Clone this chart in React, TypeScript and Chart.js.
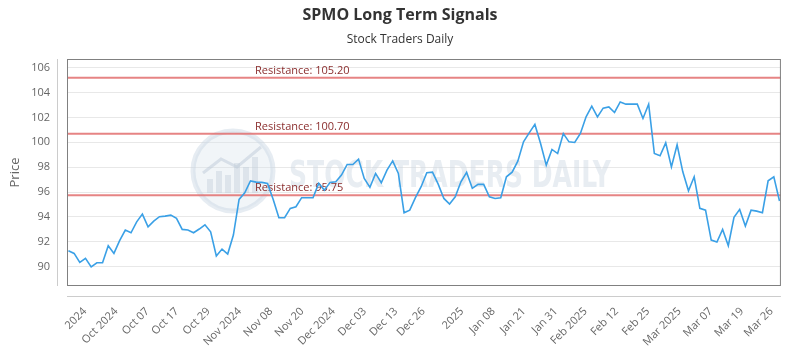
import React, { useEffect, useRef } from 'react';
import { Chart, registerables } from 'chart.js';

Chart.register(...registerables);

const titleText = 'SPMO Long Term Signals';
const subtitleText = 'Stock Traders Daily';
const yAxisTitle = 'Price';
const watermarkText = 'STOCK TRADERS DAILY';

const prices: number[] = [
  91.29, 91.07, 90.35, 90.67, 89.98, 90.32, 90.32, 91.69, 91.07, 92.09,
  92.95, 92.73, 93.61, 94.23, 93.21, 93.67, 94.02, 94.07, 94.15, 93.89,
  93.0, 92.95, 92.73, 93.03, 93.37, 92.81, 90.86, 91.42, 91.02, 92.55,
  95.41, 95.94, 96.9, 96.8, 96.78, 96.7, 95.4, 93.94, 93.94,
  94.69, 94.82, 95.55, 95.54, 95.54, 96.7, 96.16, 96.78, 96.83, 97.37,
  98.22, 98.22, 98.65, 97.1, 96.38, 97.5, 96.75, 97.77, 98.51, 97.5,
  94.34, 94.55, 95.55, 96.43, 97.55, 97.6, 96.64, 95.49, 95.04,
  95.62, 96.83, 97.58, 96.3, 96.62, 96.62, 95.62, 95.49, 95.54, 97.23,
  97.6, 98.49, 100.04, 100.76, 101.44, 99.91, 98.17, 99.43, 99.1, 100.71,
  100.04, 99.99, 100.71, 102.05, 102.91, 102.05, 102.75, 102.85, 102.4, 103.25,
  103.07, 103.07, 103.07, 101.92, 103.07, 99.1, 98.92, 99.96, 98.03, 99.8,
  97.63, 96.1, 97.23, 94.69, 94.55, 92.14, 91.98, 93.0, 91.69, 93.97,
  94.61, 93.27, 94.55, 94.47, 94.34, 96.91, 97.23, 95.28,
];

const resistanceLevels: number[] = [105.2, 100.7, 95.75];

const tickPositions: number[] = [
  2.9, 8.4, 13.9, 19.1, 24.6, 30.1, 35.6, 41.1, 46.6, 52.1, 57.6, 62.4,
  69.2, 74.7, 80.1, 85.7, 90.9, 96.4, 101.9, 107.4, 112.9, 118.4, 123.6,
];
const tickLabels: string[] = [
  '2024', 'Oct 2024', 'Oct 07', 'Oct 17', 'Oct 29', 'Nov 2024', 'Nov 08', 'Nov 20',
  'Dec 2024', 'Dec 03', 'Dec 13', 'Dec 26', '2025', 'Jan 08', 'Jan 21', 'Jan 31',
  'Feb 2025', 'Feb 12', 'Feb 25', 'Mar 2025', 'Mar 07', 'Mar 19', 'Mar 26',
];
const yTicks: number[] = [90, 92, 94, 96, 98, 100, 102, 104, 106];

const FONT = "'Open Sans', 'Noto Sans', sans-serif";

const decorPlugin = {
  id: 'decor',
  beforeDatasetsDraw(chart: any) {
    const { ctx, chartArea, scales } = chart;
    const { left, right, top, bottom } = chartArea;
    ctx.save();
    // watermark logo
    const cx = left + 166;
    const cy = top + 112;
    ctx.beginPath();
    ctx.arc(cx, cy, 40, 0, Math.PI * 2);
    ctx.fillStyle = 'rgba(215,225,236,0.35)';
    ctx.fill();
    ctx.lineWidth = 5;
    ctx.strokeStyle = 'rgba(200,212,226,0.45)';
    ctx.stroke();
    ctx.fillStyle = 'rgba(190,202,216,0.4)';
    const bars = [14, 22, 18, 30, 26, 36];
    bars.forEach((h, i) => {
      ctx.fillRect(cx - 26 + i * 9, cy + 22 - h, 6, h);
    });
    ctx.beginPath();
    ctx.moveTo(cx - 30, cy + 2);
    ctx.lineTo(cx - 12, cy - 12);
    ctx.lineTo(cx + 4, cy - 4);
    ctx.lineTo(cx + 28, cy - 24);
    ctx.lineWidth = 3;
    ctx.strokeStyle = 'rgba(190,202,216,0.5)';
    ctx.stroke();
    // watermark text
    ctx.font = `bold 38px 'DejaVu Sans Condensed', 'Liberation Sans Narrow', sans-serif`;
    const w = ctx.measureText(watermarkText).width;
    const targetW = 322;
    ctx.translate(left + 222, top + 118);
    ctx.scale(targetW / w, 1);
    ctx.textAlign = 'left';
    ctx.textBaseline = 'middle';
    ctx.fillStyle = 'rgba(205,214,226,0.45)';
    ctx.fillText(watermarkText, 0, 0);
    ctx.restore();

    // resistance lines
    ctx.save();
    const ys = scales.y;
    resistanceLevels.forEach((lvl) => {
      const py = ys.getPixelForValue(lvl);
      ctx.beginPath();
      ctx.moveTo(left, py);
      ctx.lineTo(right, py);
      ctx.lineWidth = 2;
      ctx.strokeStyle = 'rgba(226,110,110,0.85)';
      ctx.stroke();
      ctx.font = `11px ${FONT}`;
      ctx.fillStyle = '#8b2e2e';
      ctx.textAlign = 'left';
      ctx.textBaseline = 'alphabetic';
      ctx.fillText('Resistance: ' + lvl.toFixed(2), left + 188, py - 4);
    });
    ctx.restore();
  },
  afterDatasetsDraw(chart: any) {
    const { ctx, chartArea } = chart;
    const { left, right, top, bottom } = chartArea;
    ctx.save();
    ctx.lineWidth = 1;
    ctx.strokeStyle = '#808080';
    ctx.strokeRect(left + 0.5, top + 0.5, right - left - 1, bottom - top - 1);
    ctx.strokeStyle = '#cccccc';
    ctx.beginPath();
    ctx.moveTo(left - 9.5, top);
    ctx.lineTo(left - 9.5, bottom);
    ctx.moveTo(left, bottom + 10.5);
    ctx.lineTo(right, bottom + 10.5);
    ctx.stroke();
    ctx.restore();
  },
  afterDraw(chart: any) {
    const { ctx, chartArea } = chart;
    ctx.save();
    ctx.textAlign = 'center';
    ctx.textBaseline = 'middle';
    ctx.fillStyle = '#333333';
    ctx.font = `bold 16px ${FONT}`;
    ctx.fillText(titleText, 400, 15);
    ctx.font = `12px ${FONT}`;
    ctx.fillText(subtitleText, 400, 40);
    ctx.translate(15, (chartArea.top + chartArea.bottom) / 2);
    ctx.rotate(-Math.PI / 2);
    ctx.fillStyle = '#666666';
    ctx.font = `13px ${FONT}`;
    ctx.fillText(yAxisTitle, 0, 0);
    ctx.restore();
  },
};

export default function App() {
  const ref = useRef<HTMLCanvasElement | null>(null);
  useEffect(() => {
    document.body.style.margin = '0';
    const canvas = ref.current;
    if (!canvas) return;
    const chart = new Chart(canvas, {
      type: 'line',
      data: {
        datasets: [
          {
            data: prices.map((v, i) => ({ x: i, y: v })),
            borderColor: '#3aa0e6',
            borderWidth: 1.6,
            pointRadius: 0,
            tension: 0,
            fill: false,
          },
        ],
      },
      options: {
        animation: false,
        responsive: false,
        maintainAspectRatio: false,
        layout: { padding: { top: 59, right: 10, left: 0, bottom: 0 } },
        plugins: {
          legend: { display: false },
          tooltip: { enabled: false },
          title: { display: false },
        },
        scales: {
          x: {
            type: 'linear',
            min: -0.25,
            max: 125.25,
            grid: { display: false, drawTicks: false },
            border: { display: false },
            afterBuildTicks: (s: any) => {
              s.ticks = tickPositions.map((v) => ({ value: v }));
            },
            afterFit: (s: any) => {
              s.height = 64;
            },
            ticks: {
              autoSkip: false,
              minRotation: 45,
              maxRotation: 45,
              padding: 19,
              color: '#666666',
              font: { family: FONT, size: 11 },
              callback: (_v: any, i: number) => tickLabels[i],
            },
          },
          y: {
            min: 88.45,
            max: 106.7,
            afterBuildTicks: (s: any) => {
              s.ticks = yTicks.map((v) => ({ value: v }));
            },
            afterFit: (s: any) => {
              s.width = 67;
            },
            grid: { color: '#e8e8e8', drawTicks: false },
            border: { display: false },
            ticks: {
              padding: 17,
              color: '#666666',
              font: { family: FONT, size: 11 },
            },
          },
        },
      } as any,
      plugins: [decorPlugin],
    });
    return () => chart.destroy();
  }, []);
  return (
    <div style={{ width: 800, height: 350 }}>
      <canvas ref={ref} width={800} height={350} style={{ width: 800, height: 350, display: 'block' }} />
    </div>
  );
}
